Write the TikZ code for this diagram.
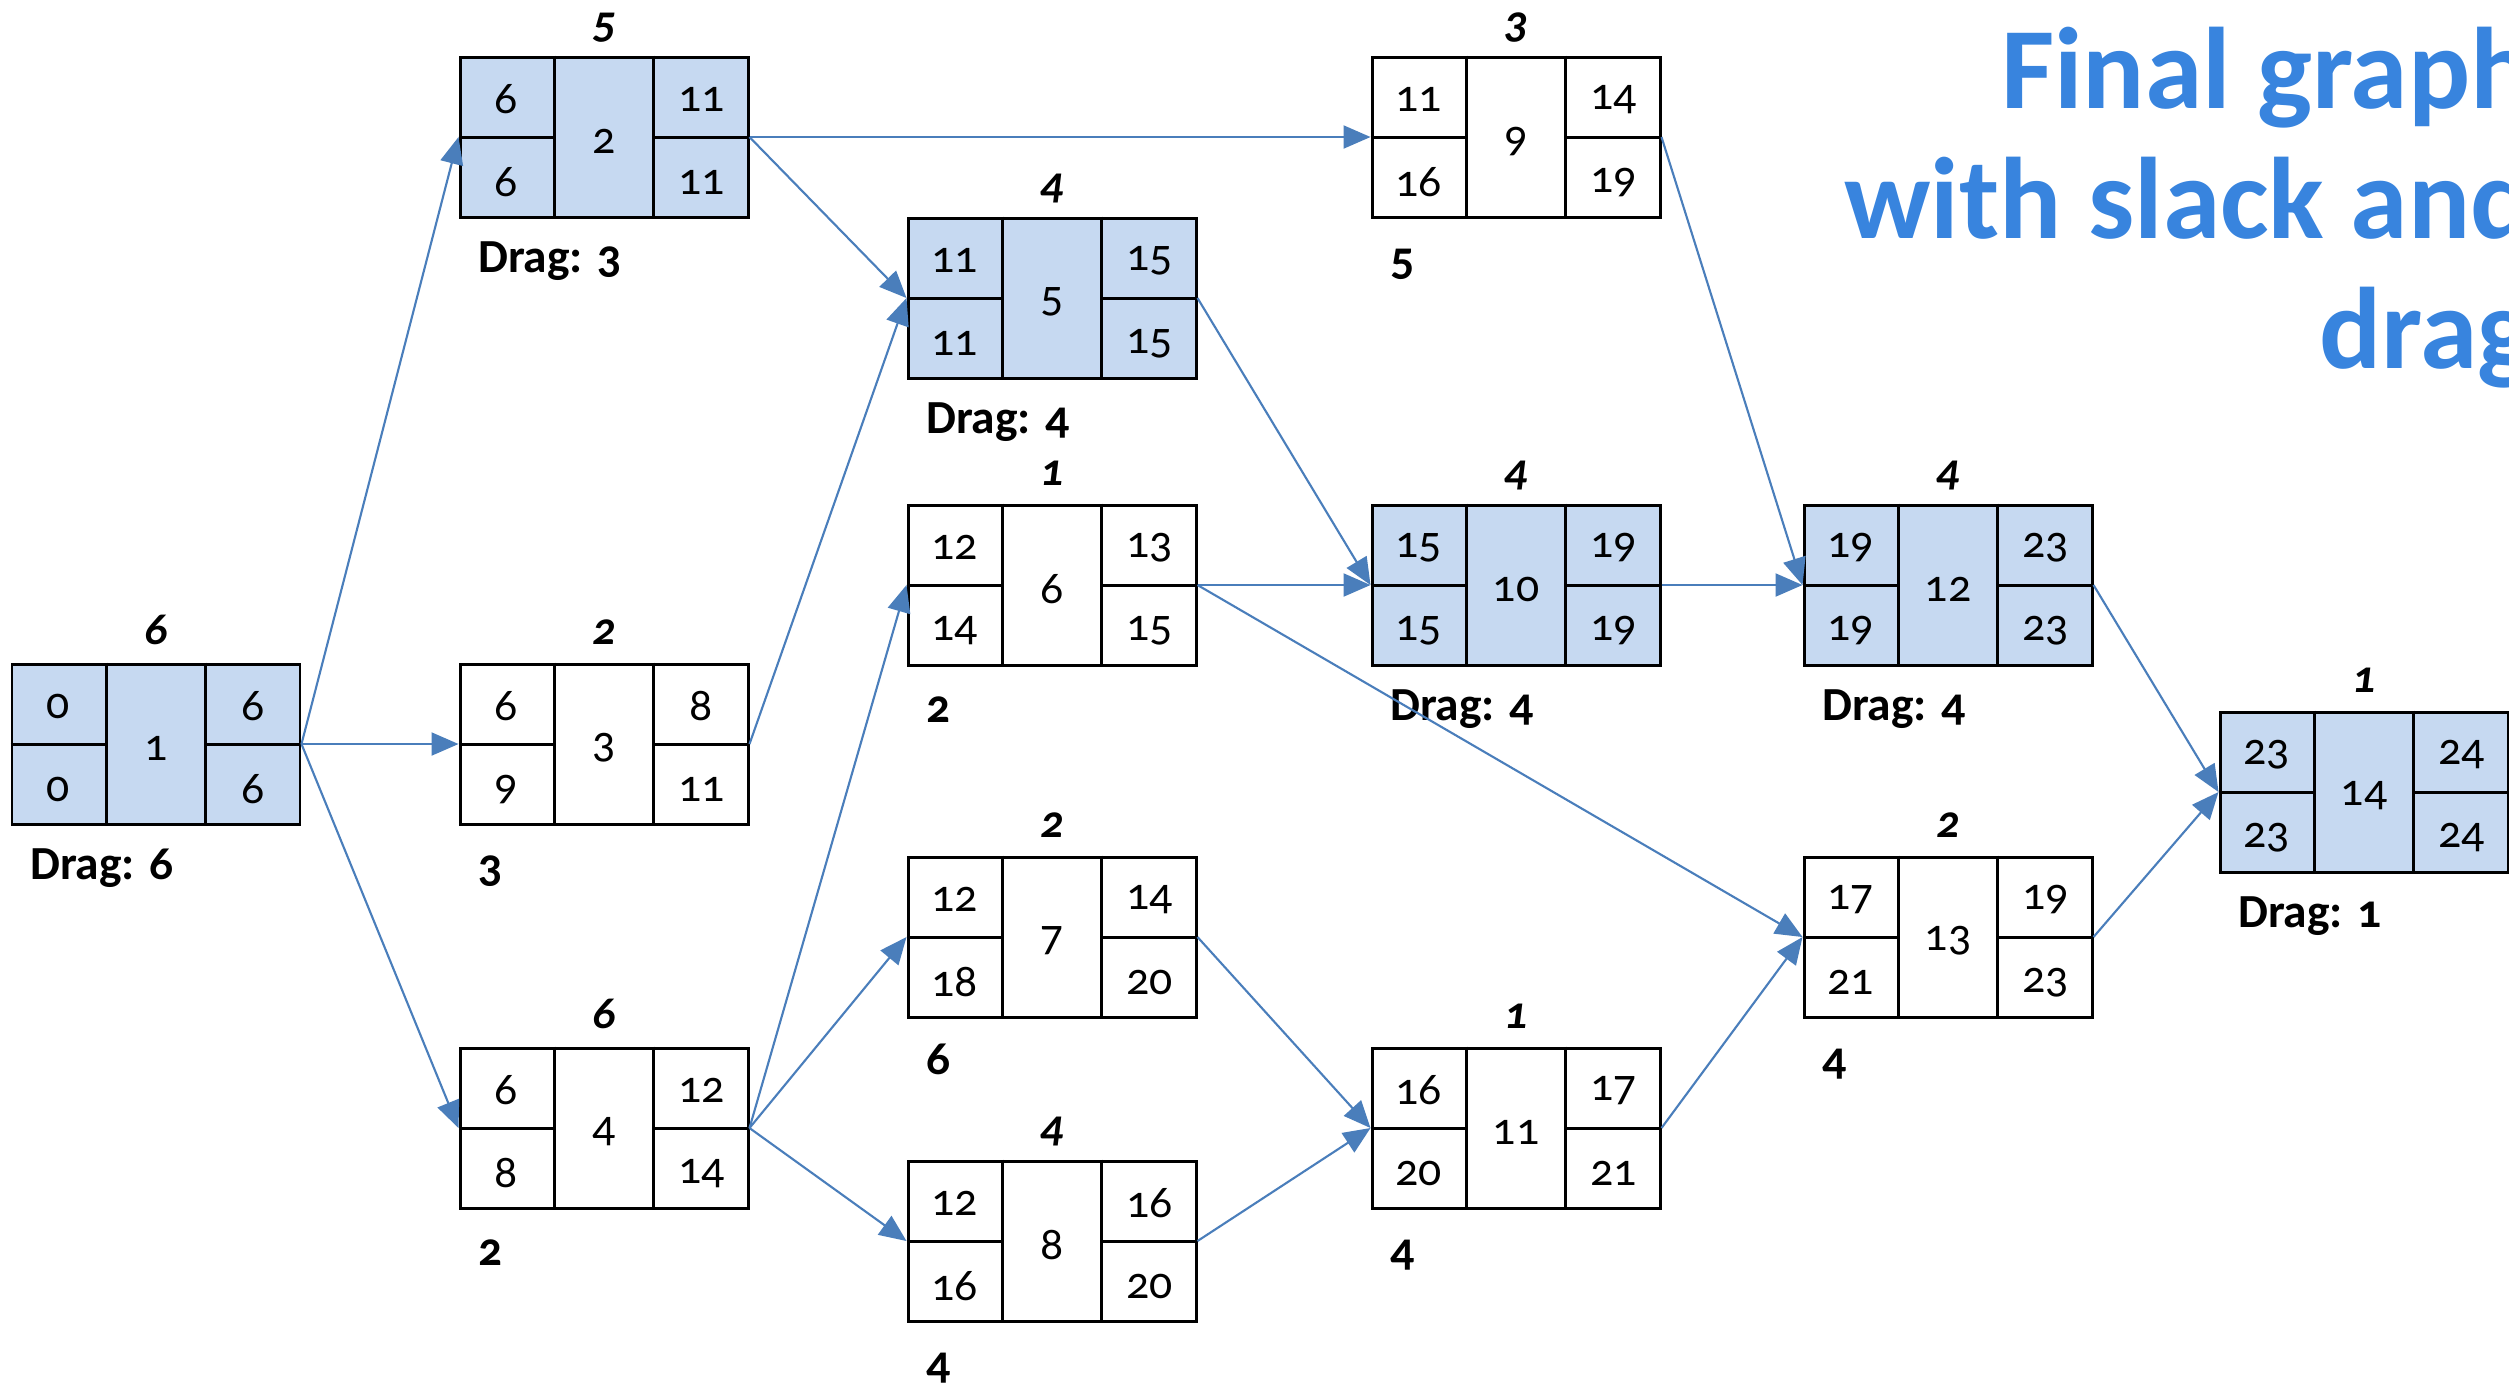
\documentclass[tikz,border=0pt]{standalone}
\usepackage{fontspec}
\setmainfont{Carlito}[Numbers=OldStyle]
\usetikzlibrary{arrows.meta,positioning}

\definecolor{critfill}{RGB}{198,217,241}
\definecolor{linkblue}{RGB}{74,126,187}
\definecolor{titleblue}{RGB}{56,132,222}

\tikzset{
  taskbox/.style={rectangle, draw=black, line width=0.85pt, fill=white,
    minimum width=28.8mm, minimum height=16mm, inner sep=0pt},
  crit/.style={fill=critfill},
  cellline/.style={draw=black, line width=0.85pt},
  num/.style={font=\fontsize{13}{15}\selectfont, inner sep=0pt},
  dur/.style={font=\bfseries\itshape\fontsize{13}{15}\selectfont, inner sep=0pt, anchor=base},
  drag/.style={font=\bfseries\fontsize{13.5}{15}\selectfont, inner sep=0pt, anchor=base west},
  titletext/.style={font=\bfseries\fontsize{33}{37}\selectfont, text=titleblue,
    align=right, inner sep=0pt}
}

% box of one activity: name, position, style, ES, LS, number, EF, LF
\newcommand\activity[8]{%
  \node[taskbox,#3] (#1) at (#2) {};
  \draw[cellline] ([xshift=9.6mm]#1.north west) -- ([xshift=9.6mm]#1.south west)
    ([xshift=-9.6mm]#1.north east) -- ([xshift=-9.6mm]#1.south east)
    (#1.west) -- ++(9.6mm,0) (#1.east) -- ++(-9.6mm,0);
  \node[num] at ([shift={(4.8mm,-4.4mm)}]#1.north west) {#4};
  \node[num] at ([shift={(4.8mm,3.6mm)}]#1.south west) {#5};
  \node[num] at ([yshift=-0.4mm]#1.center) {#6};
  \node[num] at ([shift={(-4.8mm,-4.4mm)}]#1.north east) {#7};
  \node[num] at ([shift={(-4.8mm,3.6mm)}]#1.south east) {#8};
}

\begin{document}
\begin{tikzpicture}[x=0.1mm, y=-0.1mm]
  \useasboundingbox (0,0) rectangle (2509,1386);
  \clip (0,0) rectangle (2509,1386);

  \node[titletext, anchor=north east] (title) at (2533,26) {Final graph\\with slack and\\drag};

  % activities
  \activity{t1}{156,744}{crit}{0}{0}{1}{6}{6}
  \activity{t2}{604,137}{crit}{6}{6}{2}{11}{11}
  \activity{t3}{604,744}{}{6}{9}{3}{8}{11}
  \activity{t4}{604,1128}{}{6}{8}{4}{12}{14}
  \activity{t5}{1052,298}{crit}{11}{11}{5}{15}{15}
  \activity{t6}{1052,585}{}{12}{14}{6}{13}{15}
  \activity{t7}{1052,937}{}{12}{18}{7}{14}{20}
  \activity{t8}{1052,1241}{}{12}{16}{8}{16}{20}
  \activity{t9}{1516,137}{}{11}{16}{9}{14}{19}
  \activity{t10}{1516,585}{crit}{15}{15}{10}{19}{19}
  \activity{t11}{1516,1128}{}{16}{20}{11}{17}{21}
  \activity{t12}{1948,585}{crit}{19}{19}{12}{23}{23}
  \activity{t13}{1948,937}{}{17}{21}{13}{19}{23}
  \activity{t14}{2364,792}{crit}{23}{23}{14}{24}{24}

  % durations
  \node[above=1.8mm of t1.north, dur] {6};
  \node[above=1.8mm of t2.north, dur] {5};
  \node[above=1.8mm of t3.north, dur] {2};
  \node[above=1.8mm of t4.north, dur] {6};
  \node[above=1.8mm of t5.north, dur] {4};
  \node[above=1.8mm of t6.north, dur] {1};
  \node[above=1.8mm of t7.north, dur] {2};
  \node[above=1.8mm of t8.north, dur] {4};
  \node[above=1.8mm of t9.north, dur] {3};
  \node[above=1.8mm of t10.north, dur] {4};
  \node[above=1.8mm of t11.north, dur] {1};
  \node[above=1.8mm of t12.north, dur] {4};
  \node[above=1.8mm of t13.north, dur] {2};
  \node[above=1.8mm of t14.north, dur] {1};

  % drag on the critical path, slack elsewhere
  \node[below right=5.4mm and 1.9mm of t1.south west, drag] {Drag: 6};
  \node[below right=5.4mm and 1.9mm of t2.south west, drag] {Drag: 3};
  \node[below right=5.6mm and 1.9mm of t3.south west, drag] {3};
  \node[below right=5.6mm and 1.9mm of t4.south west, drag] {2};
  \node[below right=5.4mm and 1.9mm of t5.south west, drag] {Drag: 4};
  \node[below right=5.6mm and 1.9mm of t6.south west, drag] {2};
  \node[below right=5.6mm and 1.9mm of t7.south west, drag] {6};
  \node[below right=5.6mm and 1.9mm of t8.south west, drag] {4};
  \node[below right=5.6mm and 1.9mm of t9.south west, drag] {5};
  \node[below right=5.4mm and 1.9mm of t10.south west, drag] {Drag: 4};
  \node[below right=5.6mm and 1.9mm of t11.south west, drag] {4};
  \node[below right=5.4mm and 1.9mm of t12.south west, drag] {Drag: 4};
  \node[below right=5.6mm and 1.9mm of t13.south west, drag] {4};
  \node[below right=5.4mm and 1.9mm of t14.south west, drag] {Drag: 1};

  \begin{scope}
    [every edge/.style={draw=linkblue, line width=0.6pt,
      -{Triangle[length=2.7mm,width=2.3mm]}}]
    \path (t1.east) edge (t2.west);
    \path (t1.east) edge (t3.west);
    \path (t1.east) edge (t4.west);
    \path (t2.east) edge (t9.west);
    \path (t2.east) edge (t5.west);
    \path (t3.east) edge (t5.west);
    \path (t4.east) edge (t6.west);
    \path (t4.east) edge (t7.west);
    \path (t4.east) edge (t8.west);
    \path (t5.east) edge (t10.west);
    \path (t6.east) edge (t10.west);
    \path (t6.east) edge (t13.west);
    \path (t7.east) edge (t11.west);
    \path (t8.east) edge (t11.west);
    \path (t9.east) edge (t12.west);
    \path (t10.east) edge (t12.west);
    \path (t11.east) edge (t13.west);
    \path (t12.east) edge (t14.west);
    \path (t13.east) edge (t14.west);
  \end{scope}
\end{tikzpicture}
\end{document}
